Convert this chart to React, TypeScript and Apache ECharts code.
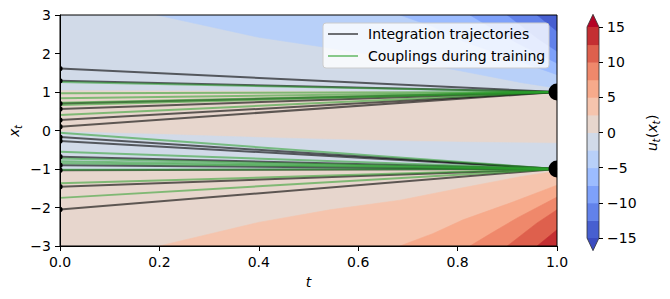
import React, { useEffect, useRef } from "react";
import * as echarts from "echarts";

// ---- contour levels & colours (coolwarm, 12 bands, extend both) ----
const levels = [-15, -12.5, -10, -7.5, -5, -2.5, 0, 2.5, 5, 7.5, 10, 12.5, 15];
const bandColors = [
  "#475fd0", "#6282ea", "#7ea1fa", "#9cbcff", "#b8d0f9", "#d1dae8",
  "#e7d6cd", "#f5c4ad", "#f7aa8b", "#ef886b", "#de604d", "#c42f32",
];
const underColor = "#3b4cc0";
const overColor = "#b40426";

// ---- contour boundary curves: [t, x] ----
const levelNeg12_5 = [[0.96, 3], [1, 2.58]];
const levelNeg10 = [[0.9, 3], [0.96, 2.4], [1, 2.06]];
const levelNeg7_5 = [[0.825, 3], [0.87, 2.65], [0.92, 2.27], [1, 1.75]];
const levelNeg5 = [[0.684, 3], [0.75, 2.7], [0.811, 2.32], [0.911, 1.86], [1, 1.45]];
const levelNeg2_5 = [[0.195, 3], [0.4, 2.42], [0.529, 2.17], [0.684, 1.85], [0.805, 1.55], [0.926, 1.25], [1, 1.1]];
const zeroUpper = [[0, 1.05], [0.5, 1.03], [1, 1.0]];
const zeroMiddle = [[0, -0.03], [0.2, -0.1], [0.4, -0.18], [0.6, -0.25], [0.8, -0.3], [1, -0.33]];
const zeroLower = [[0, -1.03], [1, -1.0]];
const levelPos2_5 = [[0.2, -3], [0.402, -2.38], [0.543, -2.06], [0.684, -1.81], [0.805, -1.5], [0.926, -1.2], [1, -1.05]];
const levelPos5 = [[0.684, -3], [0.75, -2.68], [0.811, -2.32], [0.911, -1.86], [1, -1.42]];
const levelPos7_5 = [[0.825, -3], [0.87, -2.65], [0.92, -2.27], [1, -1.73]];
const levelPos10 = [[0.9, -3], [0.96, -2.4], [1, -2.06]];
const levelPos12_5 = [[0.96, -3], [1, -2.58]];

// ---- trajectories ----
const trajStarts = [1.61, 1.29, 0.7, 0.56, 0.27, 0.1, -0.17, -0.27, -0.68, -0.9, -1.03, -1.46, -2.05];
const trajEnds = [1, 1, 1, 1, 1, 1, -1, -1, -1, -1, -1, -1, -1];
const couplingStarts = [1.26, 0.97, 0.84, 0.72, 0.66, 0.4, -0.06, -0.55, -0.73, -0.8, -0.85, -1.02, -1.37, -1.75];
const couplingEnds = [1, 1, 1, 1, 1, 1, -1, -1, -1, -1, -1, -1, -1, -1];
const targets = [1, -1];

const legendLabels = ["Integration trajectories", "Couplings during training"];

const FONT = "DejaVu Sans";
const minus = (v: number) => String(v).replace("-", "\u2212");

// painter's order regions
const regions = [
  { band: 6, pts: [[0, -3], [1, -3], [1, 3], [0, 3]] },
  { band: 5, pts: [...zeroUpper, [1, 3], [0, 3]] },
  { band: 4, pts: [...levelNeg2_5, [1, 3]] },
  { band: 3, pts: [...levelNeg5, [1, 3]] },
  { band: 2, pts: [...levelNeg7_5, [1, 3]] },
  { band: 1, pts: [...levelNeg10, [1, 3]] },
  { band: 0, pts: [...levelNeg12_5, [1, 3]] },
  { band: 5, pts: [...zeroMiddle, ...zeroLower.slice().reverse()] },
  { band: 7, pts: [...levelPos2_5, [1, -3]] },
  { band: 8, pts: [...levelPos5, [1, -3]] },
  { band: 9, pts: [...levelPos7_5, [1, -3]] },
  { band: 10, pts: [...levelPos10, [1, -3]] },
  { band: 11, pts: [...levelPos12_5, [1, -3]] },
];

const TRAJ_COLOR = "rgba(0,0,0,0.6)";
const COUP_COLOR = "rgba(44,160,44,0.55)";

export default function App() {
  const ref = useRef<HTMLDivElement>(null);
  useEffect(() => {
    if (!ref.current) return;
    const chart = echarts.init(ref.current, null, { renderer: "svg" });

    const lineSeries: any[] = [];
    trajStarts.forEach((s, i) => {
      lineSeries.push({
        type: "line", name: legendLabels[0], xAxisIndex: 0, yAxisIndex: 0,
        data: [[0, s], [1, trajEnds[i]]], symbol: "none", silent: true, z: 3,
        lineStyle: { color: TRAJ_COLOR, width: 2 },
      });
    });
    couplingStarts.forEach((s, i) => {
      lineSeries.push({
        type: "line", name: legendLabels[1], xAxisIndex: 0, yAxisIndex: 0,
        data: [[0, s], [1, couplingEnds[i]]], symbol: "none", silent: true, z: 3,
        lineStyle: { color: COUP_COLOR, width: 2 },
      });
    });

    const axisLabel = { fontFamily: FONT, fontSize: 14, color: "#000" };
    const txt = (x: number, y: number, text: string, font: string) => ({
      type: "text", x, y, z: 101,
      style: { text, font, fill: "#000", align: "left", verticalAlign: "middle" },
    });

    chart.setOption({
      animation: false,
      grid: [
        { left: 60, top: 15, width: 497, height: 231 },
        { left: 587, top: 27, width: 12, height: 211 },
      ],
      xAxis: [
        {
          gridIndex: 0, type: "value", min: 0, max: 1, interval: 0.2,
          axisLine: { show: true, onZero: false, lineStyle: { color: "#000", width: 1 } },
          axisTick: { show: true, length: 5, lineStyle: { color: "#000" } },
          axisLabel: { ...axisLabel, margin: 9, formatter: (v: number) => v.toFixed(1) },
          splitLine: { show: false },
          name: "t", nameLocation: "middle", nameGap: 29,
          nameTextStyle: { fontFamily: FONT, fontSize: 14, fontStyle: "italic", color: "#000" },
          z: 10,
        },
        { gridIndex: 1, type: "value", min: 0, max: 1, show: false },
      ],
      yAxis: [
        {
          gridIndex: 0, type: "value", min: -3, max: 3, interval: 1,
          axisLine: { show: true, onZero: false, lineStyle: { color: "#000", width: 1 } },
          axisTick: { show: true, length: 5, lineStyle: { color: "#000" } },
          axisLabel: { ...axisLabel, margin: 9, formatter: minus },
          splitLine: { show: false },
          z: 10,
        },
        {
          gridIndex: 1, type: "value", min: -15, max: 15, interval: 5, position: "right",
          axisLine: { show: false, onZero: false },
          axisTick: { show: true, length: 4, lineStyle: { color: "#000" } },
          axisLabel: { ...axisLabel, margin: 8, formatter: minus },
          splitLine: { show: false },
          z: 10,
        },
      ],
      series: [
        {
          type: "custom", name: "field", xAxisIndex: 0, yAxisIndex: 0, clip: true, silent: true, z: 1,
          data: regions.map((r) => [r.pts[0][0], r.pts[0][1]]),
          renderItem: (params: any, api: any) => {
            const r = regions[params.dataIndex];
            const c = bandColors[r.band];
            return {
              type: "polygon",
              shape: { points: r.pts.map((p) => api.coord(p)) },
              style: { fill: c, stroke: c, lineWidth: 0.6 },
            };
          },
        },
        ...lineSeries,
        {
          // start points at t = 0 (only the half inside the axes is visible)
          type: "custom", name: "starts", xAxisIndex: 0, yAxisIndex: 0, clip: true, silent: true, z: 4,
          data: trajStarts.map((s) => [0, s]),
          renderItem: (params: any, api: any) => {
            const p = api.coord([api.value(0), api.value(1)]);
            return {
              type: "sector",
              shape: { cx: p[0], cy: p[1], r0: 0, r: 2.6, startAngle: -Math.PI / 2, endAngle: Math.PI / 2, clockwise: true },
              style: { fill: "#000" },
            };
          },
        },
        {
          // targets at t = 1 (clipped by the right spine)
          type: "custom", name: "targets", xAxisIndex: 0, yAxisIndex: 0, clip: true, silent: true, z: 4,
          data: targets.map((s) => [1, s]),
          renderItem: (params: any, api: any) => {
            const p = api.coord([api.value(0), api.value(1)]);
            return {
              type: "sector",
              shape: { cx: p[0], cy: p[1], r0: 0, r: 8.5, startAngle: Math.PI / 2, endAngle: (3 * Math.PI) / 2, clockwise: true },
              style: { fill: "#000" },
            };
          },
        },
        {
          type: "custom", name: "frame", xAxisIndex: 0, yAxisIndex: 0, clip: false, silent: true, z: 6,
          data: [[0, 3]],
          renderItem: (params: any, api: any) => {
            const a = api.coord([0, 3]);
            const b = api.coord([1, -3]);
            return {
              type: "rect",
              shape: { x: a[0], y: a[1], width: b[0] - a[0], height: b[1] - a[1] },
              style: { fill: "none", stroke: "#000", lineWidth: 1 },
            };
          },
        },
        {
          type: "custom", name: "colorbar", xAxisIndex: 1, yAxisIndex: 1, clip: false, silent: true, z: 2,
          data: levels.slice(0, -1).map((lo, i) => [0.5, lo, levels[i + 1]]),
          renderItem: (params: any, api: any) => {
            const a = api.coord([0, api.value(2)]);
            const b = api.coord([1, api.value(1)]);
            const c = bandColors[params.dataIndex];
            return {
              type: "rect",
              shape: { x: a[0], y: a[1], width: b[0] - a[0], height: b[1] - a[1] + 0.5 },
              style: { fill: c },
            };
          },
        },
        {
          type: "custom", name: "colorbarExt", xAxisIndex: 1, yAxisIndex: 1, clip: false, silent: true, z: 3,
          data: [[0.5, levels[0], levels[levels.length - 1]]],
          renderItem: (params: any, api: any) => {
            const tl = api.coord([0, api.value(2)]);
            const br = api.coord([1, api.value(1)]);
            const h = (br[1] - tl[1]) * 0.06;
            const cx = (tl[0] + br[0]) / 2;
            return {
              type: "group",
              children: [
                { type: "polygon", shape: { points: [[tl[0], tl[1]], [br[0], tl[1]], [cx, tl[1] - h]] }, style: { fill: overColor } },
                { type: "polygon", shape: { points: [[tl[0], br[1]], [br[0], br[1]], [cx, br[1] + h]] }, style: { fill: underColor } },
                {
                  type: "polygon",
                  shape: { points: [[tl[0], tl[1]], [cx, tl[1] - h], [br[0], tl[1]], [br[0], br[1]], [cx, br[1] + h], [tl[0], br[1]]] },
                  style: { fill: "none", stroke: "#333", lineWidth: 0.8 },
                },
              ],
            };
          },
        },
      ],
      graphic: {
        elements: [
          {
            type: "group", x: 14, y: 131, rotation: Math.PI / 2, z: 100,
            children: [
              { type: "text", x: -6, y: 0, style: { text: "x", font: `italic 14px '${FONT}'`, fill: "#000", align: "left", verticalAlign: "middle" } },
              { type: "text", x: 2, y: 4, style: { text: "t", font: `italic 10px '${FONT}'`, fill: "#000", align: "left", verticalAlign: "middle" } },
            ],
          },
          {
            type: "group", x: 652, y: 133, rotation: Math.PI / 2, z: 100,
            children: [
              { type: "text", x: -18, y: 0, style: { text: "u", font: `italic 14px '${FONT}'`, fill: "#000", align: "left", verticalAlign: "middle" } },
              { type: "text", x: -9.5, y: 4, style: { text: "t", font: `italic 10px '${FONT}'`, fill: "#000", align: "left", verticalAlign: "middle" } },
              { type: "text", x: -5, y: 0, style: { text: "(", font: `14px '${FONT}'`, fill: "#000", align: "left", verticalAlign: "middle" } },
              { type: "text", x: 0.5, y: 0, style: { text: "x", font: `italic 14px '${FONT}'`, fill: "#000", align: "left", verticalAlign: "middle" } },
              { type: "text", x: 8.5, y: 4, style: { text: "t", font: `italic 10px '${FONT}'`, fill: "#000", align: "left", verticalAlign: "middle" } },
              { type: "text", x: 13, y: 0, style: { text: ")", font: `14px '${FONT}'`, fill: "#000", align: "left", verticalAlign: "middle" } },
            ],
          },
          {
            type: "rect", x: 323, y: 23, z: 100,
            shape: { x: 0, y: 0, width: 226, height: 45, r: 3 },
            style: { fill: "rgba(255,255,255,0.8)", stroke: "#cccccc", lineWidth: 1 },
          },
          {
            type: "line", x: 328, y: 34, z: 101,
            shape: { x1: 0, y1: 0, x2: 30, y2: 0 },
            style: { stroke: "rgba(0,0,0,0.55)", lineWidth: 2 },
          },
          {
            type: "line", x: 328, y: 56, z: 101,
            shape: { x1: 0, y1: 0, x2: 30, y2: 0 },
            style: { stroke: COUP_COLOR, lineWidth: 2 },
          },
          txt(368, 34, legendLabels[0], `14px '${FONT}'`),
          txt(368, 56, legendLabels[1], `14px '${FONT}'`),
        ],
      },
    });
    return () => chart.dispose();
  }, []);
  return <div ref={ref} style={{ width: 670, height: 299, position: "absolute", left: 0, top: 0 }} />;
}
